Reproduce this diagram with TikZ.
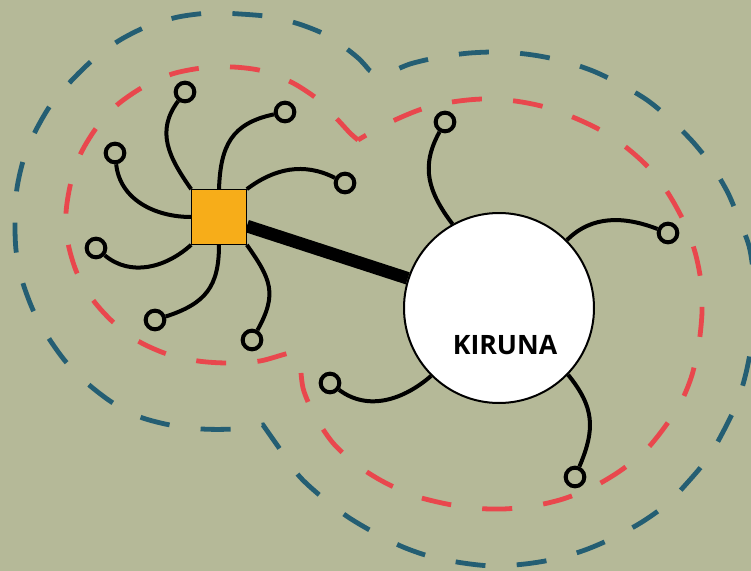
\documentclass[tikz,border=0pt]{standalone}
\usepackage{fontspec}
\setsansfont{Open Sans}
\usepackage{tikz}
\usetikzlibrary{backgrounds}
\definecolor{fieldbg}{RGB}{181,185,152}
\definecolor{mineorange}{RGB}{247,173,25}
\definecolor{innerred}{RGB}{233,71,77}
\definecolor{outerblue}{RGB}{36,94,115}
\tikzset{
hubsquare/.style={rectangle, draw=black!100,fill=mineorange,line width=0.8pt, inner sep=0pt, minimum size= 41pt},
townvertex/.style={circle, draw=black!100,fill=white,line width=1.5pt, inner sep=0pt, minimum size= 142.5pt},
tipvertex/.style={circle, draw=black!100,fill=fieldbg,line width=3pt, inner sep=0pt, minimum size= 14pt},
spoke/.style={black, line width=3pt},
railway/.style={black, line width=9.5pt},
reddashed/.style={innerred, line width=3.6pt, dash pattern=on 22.5pt off 23.5pt},
bluedashed/.style={outerblue, line width=3.6pt, dash pattern=on 22.5pt off 23.5pt},
}

\begin{document}
\begin{tikzpicture}[x=0.75pt,y=0.75pt]
\useasboundingbox (0,0) rectangle (751,-571);
\node[hubsquare] at (219,-217) (hub) {};
\node[townvertex] at (499,-308) (kiruna) {};
\node[font=\sffamily\bfseries\fontsize{20}{24}\selectfont] at (505,-345) (kirunalabel) {KIRUNA};
\node[tipvertex] at (185,-92) (t1) {};
\node[tipvertex] at (285,-112) (t2) {};
\node[tipvertex] at (345,-183) (t3) {};
\node[tipvertex] at (115,-153) (t4) {};
\node[tipvertex] at (96,-248) (t5) {};
\node[tipvertex] at (155,-320) (t6) {};
\node[tipvertex] at (252,-340) (t7) {};
\node[tipvertex] at (445,-122) (t8) {};
\node[tipvertex] at (668,-233) (t9) {};
\node[tipvertex] at (330,-383) (t10) {};
\node[tipvertex] at (575,-477) (t11) {};
\begin{pgfonlayer}{background}
\fill[fieldbg] (0,0) rectangle (751,-571);
%zones
\draw[bluedashed] plot[smooth] coordinates {(369,-70) (357,-57) (330,-37) (302,-25) (272,-17) (240,-14) (210,-13) (178,-17) (148,-26) (120,-40) (95,-58) (73,-79) (52,-103) (36,-130) (24,-158) (17,-188) (15,-218) (16,-250) (22,-280) (33,-310) (48,-337) (66,-362) (88,-384) (113,-403) (140,-417) (170,-425) (202,-429) (233,-429) (263,-425)}
  -- plot[smooth] coordinates {(263,-425) (282,-452) (300,-477) (323,-498) (348,-517) (375,-533) (403,-547) (432,-557) (463,-563) (493,-566) (525,-564) (555,-559) (585,-550) (613,-538) (642,-522) (667,-504) (688,-482) (708,-458) (723,-432) (737,-403) (746,-373) (752,-340) (755,-295) (750,-250) (740,-222) (728,-193) (712,-166) (693,-142) (670,-119) (647,-100) (620,-84) (593,-71) (563,-61) (533,-55) (502,-52) (470,-53) (440,-57) (410,-64) (382,-75) (369,-70)} -- cycle;
\draw[reddashed] plot[smooth] coordinates {(358,-140) (350,-133) (338,-120) (320,-101) (293,-83) (263,-71) (233,-67) (202,-68) (172,-74) (143,-87) (117,-105) (97,-127) (81,-153) (71,-182) (66,-213) (68,-243) (77,-273) (93,-300) (113,-322) (138,-341) (167,-354) (198,-361) (228,-363) (260,-361) (290,-353) (300,-356)}
  -- plot[smooth] coordinates {(300,-356) (303,-388) (315,-416) (333,-443) (357,-465) (382,-481) (412,-495) (442,-503) (472,-508) (503,-509) (533,-506) (563,-499) (593,-487) (620,-471) (645,-451) (664,-428) (681,-402) (692,-375) (699,-343) (702,-312) (701,-282) (695,-252) (684,-222) (668,-193) (649,-168) (627,-148) (602,-131) (575,-118) (545,-107) (515,-101) (483,-99) (452,-102) (422,-109) (395,-120) (370,-133) (358,-140)} -- cycle;
%links
\draw[railway] (hub) -- (kiruna);
\draw[spoke] (hub.north west) to[out=125,in=233,looseness=1.1] (t1);
\draw[spoke] (hub.north) to[out=88,in=192,looseness=1.2] (t2);
\draw[spoke] (hub.north east) to[out=37,in=153] (t3);
\draw[spoke] (hub.west) to[out=180,in=276] (t4);
\draw[spoke] (hub.south west) to[out=222,in=320] (t5);
\draw[spoke] (hub.south) to[out=270,in=18,looseness=1.2] (t6);
\draw[spoke] (hub.south east) to[out=305,in=61,looseness=1.25] (t7);
\draw[spoke] (kiruna.119) to[out=127,in=241,looseness=1.1] (t8);
\draw[spoke] (kiruna.45) to[out=45,in=159] (t9);
\draw[spoke] (kiruna.225) to[out=221,in=323] (t10);
\draw[spoke] (kiruna.316) to[out=309,in=67,looseness=1.15] (t11);
\end{pgfonlayer}
\end{tikzpicture}
\end{document}
